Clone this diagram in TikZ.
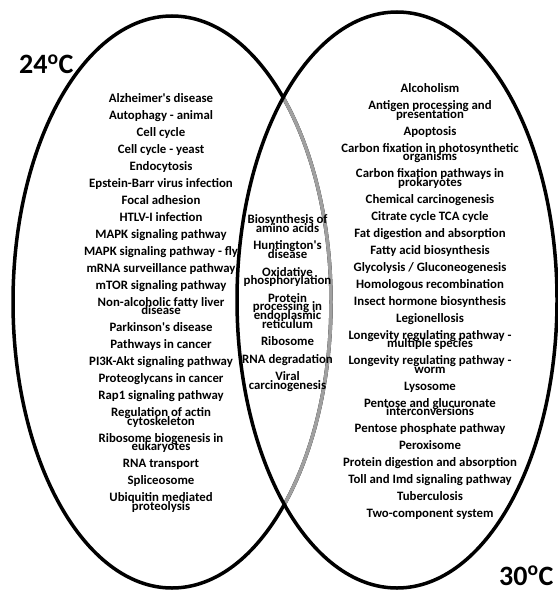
\documentclass[tikz,border=0pt]{standalone}
\usepackage{fontspec}
\setmainfont{Carlito}
\definecolor{midgray}{RGB}{160,160,160}
\newcommand{\itemgap}{\\[8.5pt]}
\newcommand{\midgap}{\\[8.7pt]}
\newcommand{\ap}{\textquotesingle}
\newcommand{\colfont}{\bfseries\fontsize{12.8pt}{8.5pt}\selectfont}
\newcommand{\midfont}{\bfseries\fontsize{12.8pt}{8.7pt}\selectfont}
\newcommand{\tempfont}{\bfseries\fontsize{28pt}{30pt}\selectfont}
\begin{document}
\setlength{\lineskiplimit}{-100pt}
\setlength{\lineskip}{0pt}
\begin{tikzpicture}[x=1pt,y=-1pt,
  ring/.style={line width=3.5pt},
  col/.style={align=center, inner sep=0pt, anchor=north, font=\colfont},
  midcol/.style={align=center, inner sep=0pt, anchor=north, font=\midfont},
  temp/.style={inner sep=0pt, anchor=base west, font=\tempfont}]
\useasboundingbox (0,0) rectangle (557,591);
% ellipses
\draw[ring] (172,302) ellipse [x radius=159, y radius=286];
\begin{scope}
  \clip (397,300) ellipse [x radius=160, y radius=288];
  \draw[ring, midgray] (172,302) ellipse [x radius=159, y radius=286];
\end{scope}
\draw[ring] (397,300) ellipse [x radius=160, y radius=288];
% labels
\node[temp] (t24) at (19,74) {24\textsuperscript{o}C};
\node[temp] (t30) at (499,585) {30\textsuperscript{o}C};
% left column
\node[col] (left) at (161,91.5) {\rule{0pt}{10.5pt}Alzheimer\ap s disease\itemgap
Autophagy - animal\itemgap
Cell cycle\itemgap
Cell cycle - yeast\itemgap
Endocytosis\itemgap
Epstein-Barr virus infection\itemgap
Focal adhesion\itemgap
HTLV-I infection\itemgap
MAPK signaling pathway\itemgap
MAPK signaling pathway - fly\itemgap
mRNA surveillance pathway\itemgap
mTOR signaling pathway\itemgap
Non-alcoholic fatty liver\\disease\itemgap
Parkinson\ap s disease\itemgap
Pathways in cancer\itemgap
PI3K-Akt signaling pathway\itemgap
Proteoglycans in cancer\itemgap
Rap1 signaling pathway\itemgap
Regulation of actin\\cytoskeleton\itemgap
Ribosome biogenesis in\\eukaryotes\itemgap
RNA transport\itemgap
Spliceosome\itemgap
Ubiquitin mediated\\proteolysis};
% middle column
\node[midcol] (mid) at (287.5,213.1) {\rule{0pt}{10.5pt}Biosynthesis of\\amino acids\midgap
Huntington\ap s\\disease\midgap
Oxidative\\phosphorylation\midgap
Protein\\processing in\\endoplasmic\\reticulum\midgap
Ribosome\midgap
RNA degradation\midgap
Viral\\carcinogenesis};
% right column
\node[col] (right) at (430,82.1) {\rule{0pt}{10.5pt}Alcoholism\itemgap
Antigen processing and\\presentation\itemgap
Apoptosis\itemgap
Carbon fixation in photosynthetic\\organisms\itemgap
Carbon fixation pathways in\\prokaryotes\itemgap
Chemical carcinogenesis\itemgap
Citrate cycle TCA cycle\itemgap
Fat digestion and absorption\itemgap
Fatty acid biosynthesis\itemgap
Glycolysis / Gluconeogenesis\itemgap
Homologous recombination\itemgap
Insect hormone biosynthesis\itemgap
Legionellosis\itemgap
Longevity regulating pathway -\\multiple species\itemgap
Longevity regulating pathway -\\worm\itemgap
Lysosome\itemgap
Pentose and glucuronate\\interconversions\itemgap
Pentose phosphate pathway\itemgap
Peroxisome\itemgap
Protein digestion and absorption\itemgap
Toll and Imd signaling pathway\itemgap
Tuberculosis\itemgap
Two-component system};
\end{tikzpicture}
\end{document}
